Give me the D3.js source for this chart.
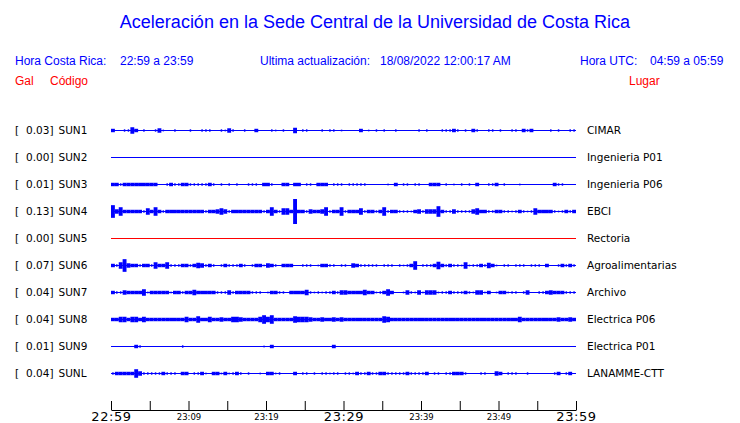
<!DOCTYPE html>
<html>
<head>
<meta charset="utf-8">
<script src="https://cdn.jsdelivr.net/npm/d3@7"></script>
<style>
  html, body { margin: 0; padding: 0; background: #ffffff; }
  svg { display: block; }
</style>
</head>
<body>
<svg id="chart" width="740" height="423"></svg>
<script>
// ---------------- DATA ----------------
const codes = ["SUN1","SUN2","SUN3","SUN4","SUN5","SUN6","SUN7","SUN8","SUN9","SUNL"];
const places = ["CIMAR","Ingenieria P01","Ingenieria P06","EBCI","Rectoria","Agroalimentarias","Archivo","Electrica P06","Electrica P01","LANAMME-CTT"];
const peaks = [0.03, 0.00, 0.01, 0.13, 0.00, 0.07, 0.04, 0.04, 0.01, 0.04];
const traceColors = ["#0000ff","#0000ff","#0000ff","#0000ff","#ff0000","#0000ff","#0000ff","#0000ff","#0000ff","#0000ff"];
const tickLabels = ["22:59","23:04","23:09","23:14","23:19","23:24","23:29","23:34","23:39","23:44","23:49","23:54","23:59"];
const majorLabels = ["22:59","23:29","23:59"];
const minorLabels = ["23:09","23:19","23:39","23:49"];

// amplitude envelope of each record, one value every 30 s (120 values, 22:59 -> 23:59)
const sun1 = [
1.5,0,0,1,1,3,1.5,0,1,0, 0,1,2,0.5,0,0,1,0,0,0,
1,0,0,1,1,1,0,0,1,0.5, 2,1,0,0,1,0,0,1.5,0,0,
0,1,0.5,0,1,0,0,2.5,0,1, 1,0,0,0,1,0,1,1,0,0.5,
0,0,0,0,1.5,0,0.5,0,1,0, 1,0,0,1,0,0,0,0,0,1,
0,1,0,0,0,1,1,1,1.5,1, 0,1,0,1.5,1,0,0,1,1,0,
1,0,0,1,1,0,1.5,1,1.5,0, 0,0,0,1,0,1,0,0,1,1];
const sun2 = [
0,0,0,0,0,0,0,0,0,0, 0,0,0,0,0,0,0,0,0,0,
0,0,0,0,0,0,0,0,0,0, 0,0,0,0,0,0,0,0,0,0,
0,0,0,0,0,0,0,0,0,0, 0,0,0,0,0,0,0,0,0,0,
0,0,0,0,0,0,0,0,0,0, 0,0,0,0,0,0,0,0,0,0,
0,0,0,0,0,0,0,0,0,0, 0,0,0,0,0,0,0,0,0,0,
0,0,0,0,0,0,0,0,0,0, 0,0,0,0,0,0,0,0,0,0];
const sun3 = [
1.5,1.5,1,1.5,1.5,1.5,1.5,1.5,1.5,1.5, 1.5,1.5,0,0,1,1.5,1,1,1.5,1.5,
1,1,1,1,1,1.5,1,0,1,0, 1,0,1,0,0,1,1,1,0,1.5,
1.5,1,0,0,1.5,1.5,0,1.5,1.5,0, 1,1,0,1.5,1.5,1.5,0,1,1,1,
0,1,1,1,1,1,0,0,0,0, 0,0.5,0,1.5,0,1,1,0,1,1,
0,0,1.5,1.5,1.5,0,1,0,0.5,0, 1,0,1,0,1.5,0,0,1,1,1.5,
0,1,0,0,0,0.5,0,0,0,0, 0,0,0,0,1.5,1,1,0,0,0];
const sun4 = [
6,2,4,1.5,1.5,1.5,1.5,1.5,1,3, 1.5,4,1.5,1,1.5,1.5,1.5,1.5,1.5,1.5,
1.5,1.5,1.5,1.5,1,1.5,1.5,2,3,2, 1,1.5,1.5,1.5,1.5,1.5,1.5,1.5,1.5,1,
1.5,4,1.5,1,3,3,1.5,12,1.5,1.5, 1,2,1.5,1.5,2,4,1,1.5,1.5,4,
1,1.5,1.5,1.5,3,1,1.5,1.5,1,1.5, 4,1,1.5,1.5,1,1,1,0.5,1.5,2,
1,2,2,2,5,1.5,1,1,2,1, 1,1,1,2,3,1.5,1.5,1,1,1.5,
1.5,1,1,0.5,1,1.5,1,0.5,1,3, 1.5,1.5,1.5,1.5,1,0.5,1,1.5,1,1.5];
const sun5 = [
0,0,0,0,0,0,0,0,0,0, 0,0,0,0,0,0,0,0,0,0,
0,0,0,0,0,0,0,0,0,0, 0,0,0,0,0,0,0,0,0,0,
0,0,0,0,0,0,0,0,0,0, 0,0,0,0,0,0,0,0,0,0,
0,0,0,0,0,0,0,0,0,0, 0,0,0,0,0,0,0,0,0,0,
0,0,0,0,0,0,0,0,0,0, 0,0,0,0,0,0,0,0,0,0,
0,0,0,0,0,0,0,0,0,0, 0,0,0,0,0,0,0,0,0,0];
const sun6 = [
1.5,1,3,6,2,1.5,1.5,1,1.5,1.5, 1,3,1.5,1.5,3,1,1,1,1.5,1.5,
1,1.5,2.5,2,1,1.5,1,0,1,1.5, 1,1,1,1.5,1,0,1,1.5,1.5,0.5,
2,1.5,1,0,1.5,1.5,1.5,0,0,1, 1,1,0,0.5,1.5,1.5,1,1,0,1,
1,0,2,1.5,1,1,1,1,1,0, 1,1,1,0,1,0.5,1,1.5,4,0,
1,1,1,1.5,3.5,1.5,1,1.5,1,1, 0.5,3,0.5,1,1,1.5,1,2.5,1.5,0.5,
0,1,1,0,1,1,1,0,1,1, 1,0,1.5,0,0,1,1.5,1,1.5,1];
const sun7 = [
1.5,1,1,2,1.5,1.5,1.5,1.5,3,0.5, 1.5,1.5,1.5,1.5,1.5,0.5,1.5,1.5,1,1.5,
1.5,2.5,1.5,1.5,1.5,1.5,1.5,1,1,1, 2,1,1.5,1.5,1.5,1.5,1,1,1,0,
0.5,1.5,1.5,1,1,0,1.5,1.5,1.5,1.5, 2.5,1,0.5,1,0.5,1,1,1.5,1,2,
2,1.5,1.5,1.5,1.5,2.5,1.5,1.5,0.5,1, 1.5,3,1.5,0,0,0.5,2,1,0.5,2,
0.5,2,2,2,0.5,1,1,1.5,1,1, 1,1.5,1,0.5,2,2,0.5,1.5,0,0.5,
1.5,1.5,0.5,1,1,0,1,2,0,0, 1,1,1.5,2,1.5,1.5,1.5,1,1,1];
const sun8 = [
1.5,1.5,2.5,2.5,1.5,2.5,2.5,1.5,2.5,1.5, 1.5,1.5,1.5,1.5,1.5,1.5,1.5,1.5,1.5,2.5,
1.5,1.5,3,1.5,1.5,2.5,1.5,1.5,2,1.5, 1.5,2.5,2.5,2,1.5,1.5,1.5,1.5,2.5,4,
2.5,4,1.5,1.5,1.5,1.5,1.5,3,2.5,2.5, 2.5,2,1.5,1.5,2,1.5,1.5,2,1.5,2,
1.5,1.5,1.5,1.5,1.5,1.5,1.5,1.5,1.5,1.5, 3,2.5,1.5,1.5,1.5,1.5,1.5,1.5,1.5,1.5,
1.5,1.5,1.5,1.5,1.5,1.5,1.5,1.5,1.5,1.5, 1.5,1.5,1.5,1.5,1.5,1.5,1.5,1.5,1.5,1.5,
1.5,1.5,1.5,1.5,1.5,2.5,1.5,1.5,1.5,1.5, 1.5,1.5,1.5,1.5,1.5,2,1.5,1.5,2,1.5];
const sun9 = [
0,0,0,0,0,0,1.5,1,0,0, 0,0,0,0,0,0,0,0,1,0,
0,0,0,0,0,0,0,0,0,0, 0,0,0,0,0,0,0,0,0,0.5,
0,1.5,0,0,0,0,0,0,0,0, 0,0,0,0,0,0,0,1.5,0,0,
0,0,0,0,0,0,0,0,0,0, 0,0,0,0,0,0,0,0,0,0,
0,0,0,0,0,0,0,0,0,0, 0,0,0,0,0,0,0,0,0,0,
0,0,0,0,0,0,0,0,0,0, 0,0,0,0,0,0,0,0,0,0];
const sunl = [
1,1.5,1.5,1.5,1.5,1.5,4,2,1,1, 1,1,1,1.5,1,1,1,0,1.5,1.5,
0,1,1,1.5,0.5,0,1.5,1.5,0.5,1.5, 0.5,1,1.5,1,0,1,0,0,0.5,0,
1.5,1.5,0.5,1,0,0,0,1.5,0,1, 1,0,1,0,1,1,0.5,1,1,0,
1,1,0.5,1.5,1,1,1.5,1,1,1.5, 1.5,1,1,1,1,1,1.5,1,1,1,
1,1.5,0,1,1,0,1,1,1.5,1.5, 1.5,1,0,0,0,1,1,0,0,2,
1.5,0,1,1,1,0,0,1,0,0, 0,0,0,0,1,1.5,0,1,1.5,0];
const envelopes = [sun1, sun2, sun3, sun4, sun5, sun6, sun7, sun8, sun9, sunl];

// ---------------- CHART ----------------
const svg = d3.select("#chart");
const t0 = new Date(2022, 7, 17, 22, 59, 0);
const t1 = new Date(2022, 7, 17, 23, 59, 0);
const x = d3.scaleTime().domain([t0, t1]).range([111, 576]);
const y = d3.scalePoint().domain(codes).range([130, 373]);
const amp = d3.scaleLinear().domain([0, 1, 12]).range([0.5, 1.2, 12.5]);
const sansH = "'Liberation Sans', Arial, Helvetica, sans-serif";
const sansD = "'DejaVu Sans', sans-serif";
const binMs = 30000;
const binW = x(new Date(+t0 + binMs)) - x(t0);

// header
svg.append("text").attr("x", 375).attr("y", 28).attr("text-anchor", "middle")
  .attr("font-family", sansH).attr("font-size", 18).attr("fill", "#0000ff")
  .text("Aceleración en la Sede Central de la Universidad de Costa Rica");

const hdr = [
  {x: 15, t: "Hora Costa Rica:"}, {x: 120, t: "22:59 a 23:59"},
  {x: 260, t: "Ultima actualización:"}, {x: 380, t: "18/08/2022 12:00:17 AM"},
  {x: 580, t: "Hora UTC:"}, {x: 650, t: "04:59 a 05:59"}
];
svg.selectAll("text.hdr").data(hdr).enter().append("text").attr("class", "hdr")
  .attr("x", d => d.x).attr("y", 65)
  .attr("font-family", sansH).attr("font-size", 12).attr("fill", "#0000ff")
  .text(d => d.t);

const hdr2 = [{x: 15, t: "Gal"}, {x: 50, t: "Código"}, {x: 629, t: "Lugar"}];
svg.selectAll("text.hdr2").data(hdr2).enter().append("text").attr("class", "hdr2")
  .attr("x", d => d.x).attr("y", 85)
  .attr("font-family", sansH).attr("font-size", 12).attr("fill", "#ff0000")
  .text(d => d.t);

// rows
const rows = codes.map((c, k) => ({code: c, place: places[k], peak: peaks[k], color: traceColors[k], env: envelopes[k]}));

const g = svg.selectAll("g.row").data(rows).enter().append("g").attr("class", "row");

// baseline of each record
g.append("line")
  .attr("x1", x(t0)).attr("x2", x(t1))
  .attr("y1", r => y(r.code) + 0.5).attr("y2", r => y(r.code) + 0.5)
  .attr("stroke", r => r.color).attr("stroke-width", 1)
  .attr("shape-rendering", "crispEdges");

// envelope bursts
g.each(function(r) {
  const yc = y(r.code) + 0.5;
  const bins = r.env.map((v, i) => ({v, t: new Date(+t0 + i * binMs)})).filter(d => d.v > 0);
  d3.select(this).selectAll("rect").data(bins).enter().append("rect")
    .attr("x", d => d.v <= 1 ? x(d.t) + binW / 2 - 0.75 : x(d.t))
    .attr("width", d => d.v <= 1 ? 1.5 : binW)
    .attr("y", d => yc - amp(d.v))
    .attr("height", d => 2 * amp(d.v))
    .attr("fill", r.color);
});

g.append("text").attr("x", 15).attr("y", r => y(r.code) + 4)
  .attr("font-family", sansD).attr("font-size", 10.5).attr("fill", "#000")
  .text("[");
g.append("text").attr("x", 53.5).attr("y", r => y(r.code) + 4).attr("text-anchor", "end")
  .attr("font-family", sansD).attr("font-size", 10.5).attr("fill", "#000")
  .text(r => r.peak.toFixed(2) + "]");
g.append("text").attr("x", 58.5).attr("y", r => y(r.code) + 4)
  .attr("font-family", sansD).attr("font-size", 10.5).attr("fill", "#000")
  .text(r => r.code);
g.append("text").attr("x", 587).attr("y", r => y(r.code) + 3.5)
  .attr("font-family", sansD).attr("font-size", 10.5).attr("fill", "#000")
  .text(r => r.place);

// time axis
const tickDates = tickLabels.map((s, i) => new Date(+t0 + i * 5 * 60000));
const axis = d3.axisBottom(x)
  .tickValues(tickDates)
  .tickSizeInner(-9)
  .tickSizeOuter(0)
  .tickPadding(0)
  .tickFormat((d, i) => tickLabels[i]);

const ax = svg.append("g").attr("transform", "translate(0,410)").call(axis);
ax.select(".domain").attr("stroke", "#000").attr("stroke-width", 1.2);
ax.selectAll(".tick line").attr("stroke", "#000").attr("stroke-width", 1);
ax.selectAll(".tick text")
  .attr("dy", null)
  .attr("fill", "#000")
  .attr("font-family", sansD)
  .each(function(d, i) {
    const lab = tickLabels[i];
    const s = d3.select(this);
    if (majorLabels.includes(lab)) {
      s.attr("y", 11).attr("font-size", 13).attr("letter-spacing", 0.6);
    } else if (minorLabels.includes(lab)) {
      s.attr("y", 10).attr("font-size", 8.5);
    } else {
      s.text("");
    }
  });
</script>
</body>
</html>
